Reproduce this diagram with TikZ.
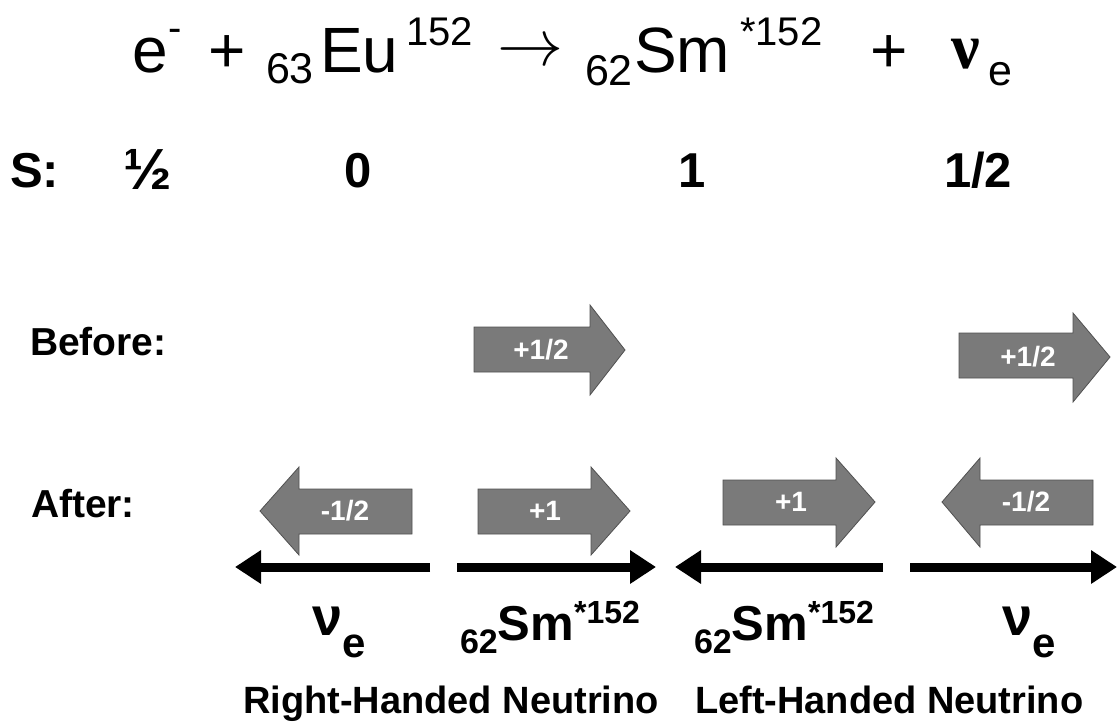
\RequirePackage{fix-cm}
\documentclass[tikz,border=0pt]{standalone}
\usepackage{fontspec}
\setmainfont{Liberation Sans}
\newfontfamily\serifgr{Liberation Serif}
\usetikzlibrary{arrows.meta}
\newcommand\fs[1]{\fontsize{#1}{#1}\selectfont}
\begin{document}
\begin{tikzpicture}[x=1pt,y=-1pt,
  txt/.style={inner sep=0pt, outer sep=0pt, anchor=base west},
  blk/.style={fill={rgb,255:red,122;green,122;blue,122}, draw={rgb,255:red,80;green,80;blue,80}, line width=0.8pt},
  lbl/.style={inner sep=0pt, text=white, font=\fs{28}\bfseries},
  axisarrow/.style={line width=9pt, -{Triangle[length=26pt,width=32pt]}}]
\useasboundingbox[fill=white] (0,0) rectangle (1118,724);

% equation
\node[txt] (e) at (132,72) {\fs{64}e};
\node[txt] (em) at (168,41) {\fs{40}-};
\node[txt] (p1) at (208,72) {\fs{64}+};
\node[txt] (z63) at (266,83) {\fs{43}63};
\node[txt] (eu) at (320,72) {\fs{64}Eu};
\node[txt] (a152) at (406,45) {\fs{40}152};
\node[txt] (arr) at (497,65) {\fs{66}$\rightarrow$};
\node[txt] (z62) at (585,85) {\fs{43}62};
\node[txt] (sm) at (634,72) {\fs{64}Sm};
\node[txt] (s152) at (740,45) {\fs{40}*152};
\node[txt] (p2) at (870,72) {\fs{64}+};
\node[txt] (nu) at (951,68) {\serifgr\bfseries\fs{64}ν};
\node[txt] (nue) at (988,85) {\fs{43}e};

% spin row
\node[txt] (S) at (10,187) {\fs{49}\bfseries S:};
\node[txt] (s1) at (123,189) {\fs{58}\bfseries ½};
\node[txt] (s2) at (344,187) {\fs{49}\bfseries 0};
\node[txt] (s3) at (678,187) {\fs{49}\bfseries 1};
\node[txt] (s4) at (944,187) {\fs{49}\bfseries 1/2};

\node[txt] (before) at (30,355) {\fs{39}\bfseries Before:};
\node[txt] (after) at (31,517) {\fs{39}\bfseries After:};

% block arrows
\filldraw[blk] (474,327) -- (590,327) -- (590,305) -- (625,350) -- (590,395) -- (590,372) -- (474,372) -- cycle;
\node[lbl] (b1) at (541,350) {+1/2};
\filldraw[blk] (959,333) -- (1073,333) -- (1073,313) -- (1110,357) -- (1073,402) -- (1073,378) -- (959,378) -- cycle;
\node[lbl] (b2) at (1028,357) {+1/2};

\filldraw[blk] (412,489) -- (299,489) -- (299,467) -- (260,511) -- (299,555) -- (299,534) -- (412,534) -- cycle;
\node[lbl] (a1) at (345,511) {-1/2};
\filldraw[blk] (478,489) -- (591,489) -- (591,467) -- (630,511) -- (591,555) -- (591,534) -- (478,534) -- cycle;
\node[lbl] (a2) at (545,511) {+1};
\filldraw[blk] (723,480) -- (836,480) -- (836,458) -- (875,502) -- (836,547) -- (836,525) -- (723,525) -- cycle;
\node[lbl] (a3) at (791,502) {+1};
\filldraw[blk] (1093,480) -- (980,480) -- (980,458) -- (942,502) -- (980,547) -- (980,525) -- (1093,525) -- cycle;
\node[lbl] (a4) at (1026,502) {-1/2};

% momentum arrows
\coordinate (l1s) at (430,567); \coordinate (l1e) at (235,567);
\coordinate (l2s) at (457,567); \coordinate (l2e) at (656,567);
\coordinate (l3s) at (883,567); \coordinate (l3e) at (675,567);
\coordinate (l4s) at (910,567); \coordinate (l4e) at (1117,567);
\draw[axisarrow] (l1s) -- (l1e);
\draw[axisarrow] (l2s) -- (l2e);
\draw[axisarrow] (l3s) -- (l3e);
\draw[axisarrow] (l4s) -- (l4e);

% particle labels
\node[txt] (nuL) at (312,635) {\bfseries\fs{54}ν\fs{42}\raisebox{-22pt}{e}};
\node[txt] (smL) at (460,640) {\bfseries\fs{34}\raisebox{-13pt}{62}\fs{49}Sm\fs{32}\raisebox{17pt}{*152}};
\node[txt] (smR) at (694,640) {\bfseries\fs{34}\raisebox{-13pt}{62}\fs{49}Sm\fs{32}\raisebox{17pt}{*152}};
\node[txt] (nuR) at (1002,635) {\bfseries\fs{54}ν\fs{42}\raisebox{-22pt}{e}};

\node[txt] (rh) at (243,713) {\fs{38}\bfseries Right-Handed Neutrino};
\node[txt] (lh) at (695,713) {\fs{38}\bfseries Left-Handed Neutrino};
\end{tikzpicture}
\end{document}
